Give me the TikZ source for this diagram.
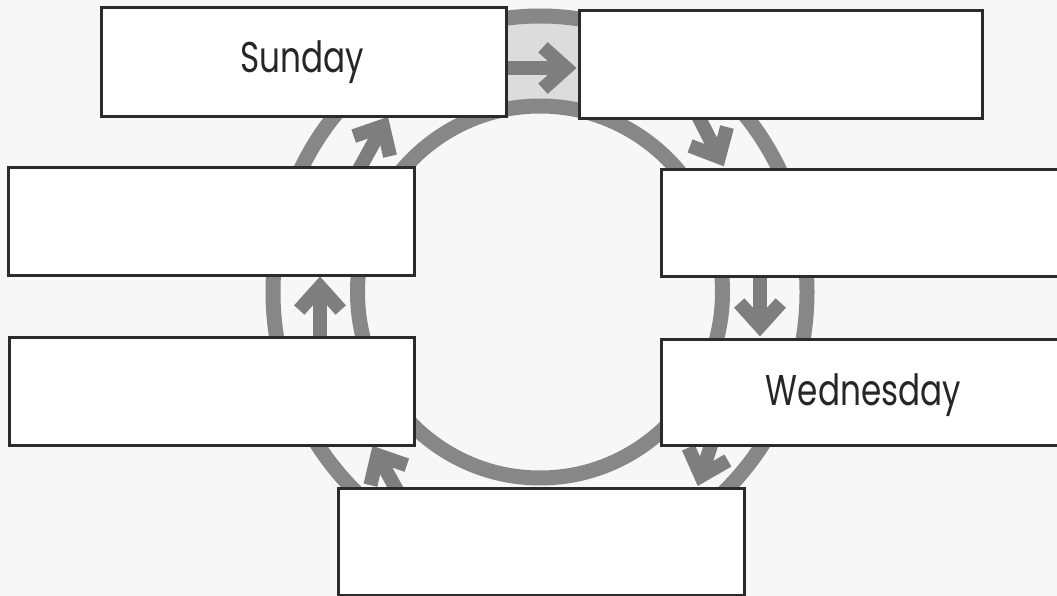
\documentclass[tikz,border=0pt]{standalone}
\usepackage{fontspec}
\newfontfamily\handfont[FakeStretch=0.76]{Poppins}
\usetikzlibrary{calc}
\definecolor{ringgray}{HTML}{878787}
\definecolor{arrowgray}{HTML}{7E7E7E}
\definecolor{shadegray}{HTML}{DCDCDC}
\definecolor{paper}{HTML}{F7F7F7}
\definecolor{boxline}{HTML}{2B2B2B}
\tikzset{
  daybox/.style={draw=boxline, line width=3pt, fill=white, rectangle, anchor=north west, inner sep=0pt},
  ringline/.style={draw=ringgray, line width=15pt},
  cyc/.style={draw=arrowgray, line width=14pt},
  daylabel/.style={font=\handfont\fontsize{43}{48}\selectfont, text=black!85, anchor=base, inner sep=0pt}
}
\newcommand\cyclearrow[2]{%
  \draw[cyc, line cap=butt] (#1) -- (#2);
  \draw[cyc, line join=miter, line cap=butt] ($(#2)!31pt!42:(#1)$) -- (#2) -- ($(#2)!31pt!-42:(#1)$);
}
\begin{document}
\begin{tikzpicture}[x=1pt,y=-1pt]
\clip (0,0) rectangle (1057,596);
\fill[paper] (0,0) rectangle (1057,596);
\coordinate (c) at (540,292);
\begin{scope}
  \clip (505,0) rectangle (578,120);
  \fill[shadegray, even odd rule] (c) ellipse [x radius=267, y radius=276] (c) ellipse [x radius=182.5, y radius=186];
\end{scope}
\draw[ringline] (c) ellipse [x radius=267, y radius=276];
\draw[ringline] (c) ellipse [x radius=182.5, y radius=186];
% arrows (start, tip)
\coordinate (a1s) at (500,68);   \coordinate (a1t) at (566,68);
\coordinate (a2s) at (696,112);  \coordinate (a2t) at (719,157);
\coordinate (a3s) at (760,272);  \coordinate (a3t) at (760,326);
\coordinate (a4s) at (715,433);  \coordinate (a4t) at (701,476);
\coordinate (a5s) at (399,494);  \coordinate (a5t) at (377.5,455);
\coordinate (a6s) at (320,340);  \coordinate (a6t) at (320,287);
\coordinate (a7s) at (356.5,174);\coordinate (a7t) at (383,126);
\cyclearrow{a1s}{a1t}
\cyclearrow{a2s}{a2t}
\cyclearrow{a3s}{a3t}
\cyclearrow{a4s}{a4t}
\cyclearrow{a5s}{a5t}
\cyclearrow{a6s}{a6t}
\cyclearrow{a7s}{a7t}
% boxes
\node[daybox, minimum width=405pt, minimum height=109pt] (sun) at (100,6) {};
\node[daybox, minimum width=403pt, minimum height=108pt] (mon) at (578,9) {};
\node[daybox, minimum width=410pt, minimum height=107pt] (tue) at (660,168) {};
\node[daybox, minimum width=410pt, minimum height=106pt] (wed) at (660,338) {};
\node[daybox, minimum width=406pt, minimum height=107pt] (thu) at (337,487) {};
\node[daybox, minimum width=405pt, minimum height=108pt] (fri) at (8,336) {};
\node[daybox, minimum width=406pt, minimum height=108pt] (sat) at (7,166) {};
\node[daylabel] (suntext) at (302.5,73) {Sunday};
\node[daylabel] (wedtext) at (863.5,405) {Wednesday};
\end{tikzpicture}
\end{document}
